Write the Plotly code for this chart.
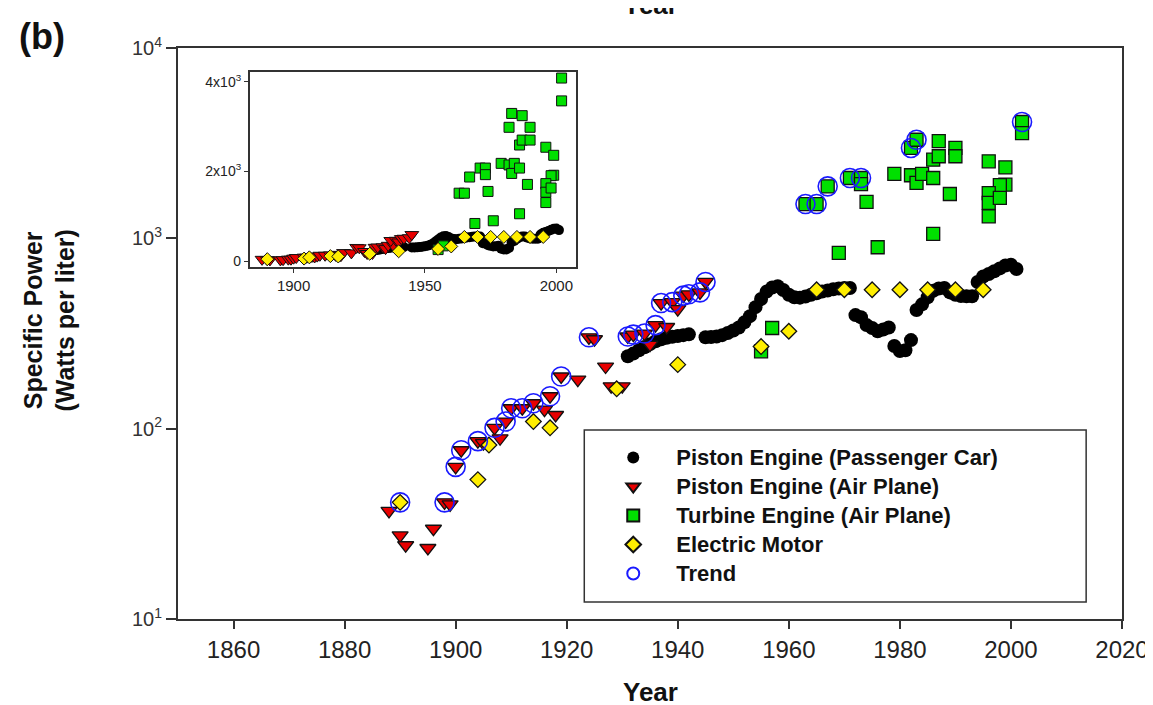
import plotly.graph_objects as go

# ---------------- data ----------------
car_year = [1931, 1932, 1933, 1934, 1935, 1936, 1937, 1938, 1939, 1940, 1941, 1942,
            1945, 1946, 1947, 1948, 1949, 1950, 1951, 1952, 1953, 1954, 1955, 1956,
            1957, 1958, 1959, 1960, 1961, 1962, 1963, 1964, 1965, 1966, 1967, 1968,
            1969, 1970, 1971, 1972, 1973, 1974, 1975, 1976, 1977, 1978, 1979, 1980,
            1981, 1982, 1983, 1984, 1985, 1986, 1987, 1988, 1989, 1990, 1991, 1992,
            1993, 1994, 1995, 1996, 1997, 1998, 1999, 2000, 2001]
car_val = [240, 248, 258, 268, 278, 288, 295, 300, 304, 307, 310, 313,
           302, 303, 305, 310, 318, 328, 340, 362, 390, 435, 480, 525,
           552, 560, 535, 505, 490, 488, 495, 505, 515, 525, 532, 540,
           545, 548, 548, 395, 385, 350, 338, 325, 332, 340, 272, 256,
           258, 292, 420, 450, 490, 530, 545, 548, 520, 505, 498, 496,
           496, 590, 630, 650, 672, 695, 720, 726, 690]

plane_year = [1888, 1890, 1891, 1895, 1896, 1898, 1899, 1900, 1901, 1904, 1905, 1907,
              1908, 1909, 1910, 1912, 1914, 1916, 1917, 1918, 1919, 1922, 1924, 1925,
              1927, 1928, 1930, 1931, 1932, 1934, 1935, 1936, 1938, 1937, 1939, 1940,
              1941, 1942, 1944, 1945]
plane_val = [37, 27.5, 24.4, 23.6, 29.8, 41, 40, 63, 77, 86, 84, 101,
             89, 109, 128, 128, 136, 126, 148, 118, 188, 181, 302, 295,
             212, 167, 167, 305, 312, 316, 276, 350, 342, 457, 462, 425,
             500, 508, 520, 590]

turb_year = [1955, 1957, 1963, 1965, 1967, 1969, 1971, 1973, 1973, 1974, 1976, 1979,
             1982, 1983, 1982, 1983, 1984, 1986, 1987, 1986, 1987, 1990, 1990, 1989,
             1986, 1996, 1999, 1999, 1998, 1996, 1996, 1998, 1996, 2002, 2002]
turb_val = [255, 338, 1514, 1514, 1875, 838, 2075, 2075, 1928, 1553, 898, 2180,
            2985, 3295, 2145, 1955, 2180, 2075, 3245, 2590, 2700, 2985, 2700, 1710,
            1055, 2540, 2360, 1915, 1905, 1728, 1536, 1630, 1305, 4085, 3575]

elec_year = [1890, 1904, 1906, 1914, 1917, 1929, 1940, 1955, 1960, 1965, 1970, 1975,
             1980, 1985, 1990, 1995]
elec_val = [41, 54, 82, 109, 101, 162, 217, 270, 325, 537, 537, 537,
            537, 537, 537, 537]

trend_year = [1890, 1898, 1900, 1901, 1904, 1907, 1909, 1910, 1912, 1914, 1917, 1919,
              1924, 1931, 1932, 1934, 1936, 1937, 1939, 1941, 1942, 1944, 1945,
              1963, 1965, 1967, 1971, 1973, 1982, 1983, 2002]
trend_val = [41, 41, 63, 77, 86, 101, 109, 128, 128, 136, 148, 188,
             302, 305, 312, 316, 350, 457, 462, 500, 508, 520, 590,
             1514, 1514, 1875, 2075, 2075, 2985, 3295, 4085]

series_names = ["Piston Engine (Passenger Car)", "Piston Engine (Air Plane)",
                "Turbine Engine (Air Plane)", "Electric Motor", "Trend"]

x_ticks = [1860, 1880, 1900, 1920, 1940, 1960, 1980, 2000, 2020]
y_ticks = [10, 100, 1000, 10000]
y_ticktext = ["10<sup>1</sup>", "10<sup>2</sup>", "10<sup>3</sup>", "10<sup>4</sup>"]
inset_x_ticks = [1900, 1950, 2000]
inset_y_ticks = [0, 2000, 4000]
inset_y_ticktext = ["0", "2x10<sup>3</sup>", "4x10<sup>3</sup>"]

# ---------------- figure ----------------
W, H = 1153, 705
ML, MR, MT, MB = 170, 35, 40, 94
PW, PH = W - ML - MR, H - MT - MB


def px_x(px):
    return (px - ML) / PW


def px_y(py):
    return (H - MB - py) / PH


FONT = "Liberation Sans, Arial, Helvetica, sans-serif"
RED, GREEN, YELLOW, BLUE = "#e80000", "#00e000", "#ffee00", "#1a1aff"
EDGE = dict(color="#111111", width=1.3)


def legend_label(name):
    return '<span style="font-size:22px">' + name + "</span>"


fig = go.Figure()

main_specs = [
    (car_year, car_val, series_names[0], dict(symbol="circle", size=14, color="black",
                                               line=dict(color="black", width=0))),
    (plane_year, plane_val, series_names[1], dict(symbol="triangle-down", size=14, color=RED, line=EDGE)),
    (turb_year, turb_val, series_names[2], dict(symbol="square", size=13, color=GREEN, line=EDGE)),
    (elec_year, elec_val, series_names[3], dict(symbol="diamond", size=12, color=YELLOW, line=EDGE)),
    (trend_year, trend_val, series_names[4], dict(symbol="circle-open", size=19, color=BLUE,
                                                   line=dict(color=BLUE, width=1.6))),
]
for xs, ys, name, mk in main_specs:
    fig.add_trace(go.Scatter(x=xs, y=ys, mode="markers", name=legend_label(name), marker=mk,
                             xaxis="x", yaxis="y", showlegend=True))

inset_specs = [
    (car_year, car_val, dict(symbol="circle", size=10, color="black")),
    (plane_year, plane_val, dict(symbol="triangle-down", size=12, color=RED, line=dict(color="#111", width=1))),
    (turb_year, turb_val, dict(symbol="square", size=10, color=GREEN, line=dict(color="#111", width=1))),
    (elec_year, elec_val, dict(symbol="diamond", size=10, color=YELLOW, line=dict(color="#111", width=1))),
]
for xs, ys, mk in inset_specs:
    fig.add_trace(go.Scatter(x=xs, y=ys, mode="markers", marker=mk,
                             xaxis="x2", yaxis="y2", showlegend=False))

axis_common = dict(showgrid=False, zeroline=False, showline=True, mirror=True,
                   ticks="outside", linecolor="#333333", tickcolor="#333333")

fig.update_layout(
    width=W, height=H,
    margin=dict(l=ML, r=MR, t=MT, b=MB),
    paper_bgcolor="white", plot_bgcolor="white",
    font=dict(family=FONT, color="#222222"),
    xaxis=dict(domain=[0, 1], range=[1850, 2020], tickvals=x_ticks, ticklen=8, tickwidth=1.5,
               linewidth=2, tickfont=dict(size=24, color="#222222"), anchor="y", **axis_common),
    yaxis=dict(domain=[0, 1], type="log", range=[1, 4], tickvals=y_ticks, ticktext=y_ticktext,
               ticklen=10, tickwidth=1.5, linewidth=2, tickfont=dict(size=20, color="#333333"),
               anchor="x", **axis_common),
    xaxis2=dict(domain=[px_x(242), px_x(570)], range=[1883.3, 2007.6], tickvals=inset_x_ticks,
                ticklen=4, tickwidth=1, linewidth=1.5, tickfont=dict(size=15, color="#222222"),
                anchor="y2", **axis_common),
    yaxis2=dict(domain=[px_y(259), px_y(64)], range=[-134, 4220], tickvals=inset_y_ticks,
                ticktext=inset_y_ticktext, ticklen=4, tickwidth=1, linewidth=1.5,
                tickfont=dict(size=14, color="#222222"), anchor="x2", **axis_common),
    legend=dict(x=px_x(584), y=px_y(430), xanchor="left", yanchor="top",
                bgcolor="rgba(0,0,0,0)", borderwidth=0, itemwidth=76,
                font=dict(size=20, family=FONT, color="#111111", weight="bold"),
                itemsizing="constant"),
    showlegend=True,
)

# legend frame
fig.add_shape(type="rect", xref="paper", yref="paper",
              x0=px_x(578), x1=px_x(1082), y0=px_y(594), y1=px_y(422),
              line=dict(color="#333333", width=1.5), fillcolor="white", layer="below")

# titles
fig.add_annotation(text="<b>(b)</b>", xref="paper", yref="paper", x=px_x(8), y=px_y(29),
                   xanchor="left", yanchor="middle", showarrow=False,
                   font=dict(size=36, family=FONT, color="#111111"))
fig.add_annotation(text="<b>Specific Power<br>(Watts per liter)</b>", xref="paper", yref="paper",
                   x=px_x(40), y=px_y(313), xanchor="center", yanchor="middle", textangle=-90,
                   showarrow=False, font=dict(size=25, family=FONT, color="#111111"))
fig.add_annotation(text="<b>Year</b>", xref="paper", yref="paper", x=px_x(644), y=px_y(684),
                   xanchor="center", yanchor="middle", showarrow=False,
                   font=dict(size=26, family=FONT, color="#111111"))
# remnant of the panel above, cut by the top edge
fig.add_annotation(text="<b>Year</b>", xref="paper", yref="paper", x=px_x(644), y=px_y(14),
                   xanchor="center", yanchor="bottom", showarrow=False,
                   font=dict(size=26, family=FONT, color="#111111"))

fig.write_html("out.html")
